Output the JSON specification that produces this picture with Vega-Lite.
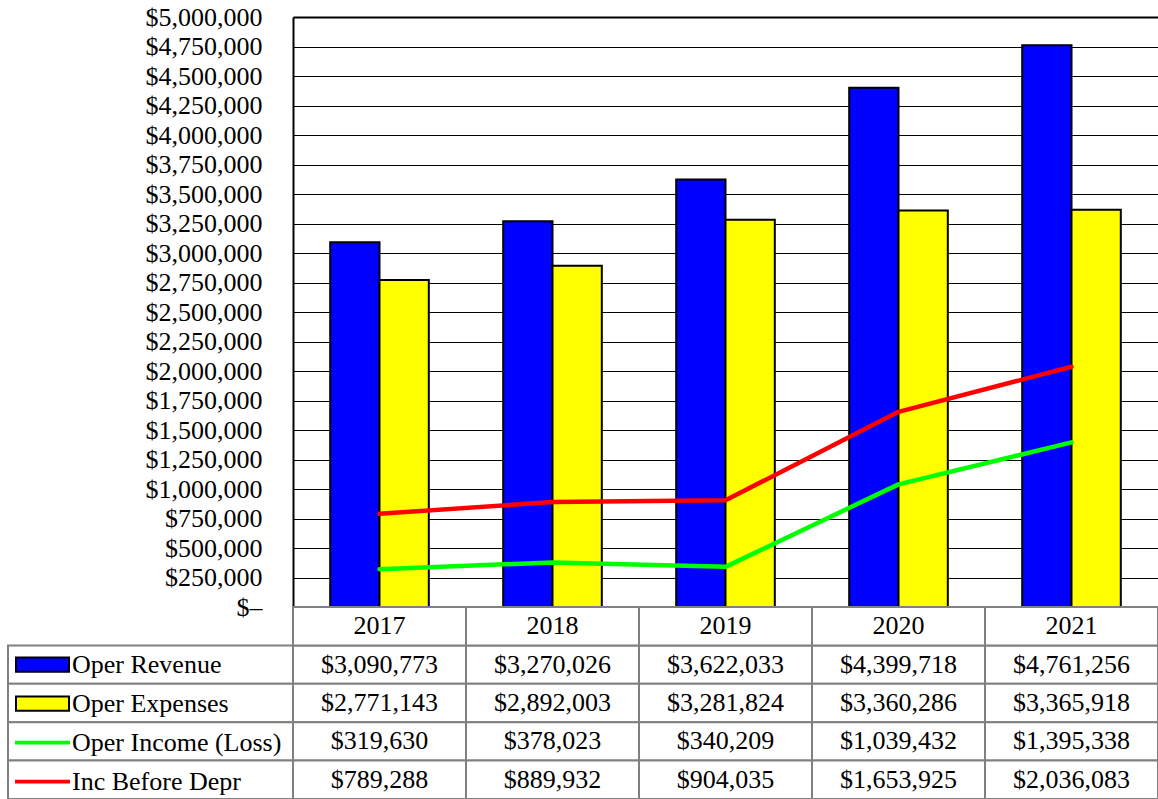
{
  "$schema": "https://vega.github.io/schema/vega-lite/v6.json",
  "background": "white",
  "padding": {"left": 7, "top": 4, "right": 0, "bottom": 0},
  "config": {
    "view": {"stroke": null},
    "font": "Liberation Serif",
    "concat": {"spacing": 0}
  },
  "datasets": {
    "fin": [
      {"year": "2017", "series": "Oper Revenue", "value": 3090773},
      {"year": "2018", "series": "Oper Revenue", "value": 3270026},
      {"year": "2019", "series": "Oper Revenue", "value": 3622033},
      {"year": "2020", "series": "Oper Revenue", "value": 4399718},
      {"year": "2021", "series": "Oper Revenue", "value": 4761256},
      {"year": "2017", "series": "Oper Expenses", "value": 2771143},
      {"year": "2018", "series": "Oper Expenses", "value": 2892003},
      {"year": "2019", "series": "Oper Expenses", "value": 3281824},
      {"year": "2020", "series": "Oper Expenses", "value": 3360286},
      {"year": "2021", "series": "Oper Expenses", "value": 3365918},
      {"year": "2017", "series": "Oper Income (Loss)", "value": 319630},
      {"year": "2018", "series": "Oper Income (Loss)", "value": 378023},
      {"year": "2019", "series": "Oper Income (Loss)", "value": 340209},
      {"year": "2020", "series": "Oper Income (Loss)", "value": 1039432},
      {"year": "2021", "series": "Oper Income (Loss)", "value": 1395338},
      {"year": "2017", "series": "Inc Before Depr", "value": 789288},
      {"year": "2018", "series": "Inc Before Depr", "value": 889932},
      {"year": "2019", "series": "Inc Before Depr", "value": 904035},
      {"year": "2020", "series": "Inc Before Depr", "value": 1653925},
      {"year": "2021", "series": "Inc Before Depr", "value": 2036083}
    ]
  },
  "columns": 2,
  "bounds": "flush",
  "spacing": 0,
  "resolve": {"scale": {"color": "independent"}},
  "concat": [
    {
      "width": 285,
      "height": 590,
      "data": {"values": []},
      "mark": {"type": "point", "opacity": 0}
    },
    {
      "width": 865,
      "height": 590,
      "data": {"name": "fin"},
      "encoding": {
        "x": {"field": "year", "type": "ordinal", "axis": null,
              "scale": {"paddingInner": 0.43, "paddingOuter": 0.215}},
        "y": {"field": "value", "type": "quantitative",
              "scale": {"domain": [0, 5000000], "nice": false},
              "axis": {
                "title": null,
                "values": [0, 250000, 500000, 750000, 1000000, 1250000, 1500000, 1750000, 2000000, 2250000, 2500000, 2750000, 3000000, 3250000, 3500000, 3750000, 4000000, 4250000, 4500000, 4750000, 5000000],
                "labelExpr": "datum.value == 0 ? '$–' : '$' + format(datum.value, ',')",
                "labelFont": "Liberation Serif",
                "labelFontSize": 26,
                "labelColor": "black",
                "labelPadding": 31,
                "labelFlush": false,
                "labelOverlap": false,
                "ticks": false,
                "tickSize": 0,
                "domain": true,
                "domainColor": "black",
                "domainWidth": 2,
                "grid": true,
                "gridColor": "black",
                "gridOpacity": 1,
                "gridWidth": {"condition": {"test": "datum.value == 5000000", "value": 2}, "value": 1}
              }}
      },
      "layer": [
        {
          "transform": [{"filter": "datum.series == 'Oper Revenue' || datum.series == 'Oper Expenses'"}],
          "mark": {"type": "bar", "stroke": "black", "strokeWidth": 2},
          "encoding": {
            "xOffset": {"field": "series", "type": "nominal",
                        "scale": {"domain": ["Oper Revenue", "Oper Expenses"], "paddingInner": 0, "paddingOuter": 0}},
            "color": {"field": "series", "type": "nominal", "legend": null,
                      "scale": {"domain": ["Oper Revenue", "Oper Expenses", "Oper Income (Loss)", "Inc Before Depr"],
                                "range": ["#0000ff", "#ffff00", "#00ff00", "#ff0000"]}}
          }
        },
        {
          "transform": [{"filter": "datum.series == 'Oper Income (Loss)' || datum.series == 'Inc Before Depr'"}],
          "mark": {"type": "line", "strokeWidth": 4.5, "strokeCap": "round", "strokeJoin": "round"},
          "encoding": {
            "color": {"field": "series", "type": "nominal", "legend": null,
                      "scale": {"domain": ["Oper Revenue", "Oper Expenses", "Oper Income (Loss)", "Inc Before Depr"],
                                "range": ["#0000ff", "#ffff00", "#00ff00", "#ff0000"]}}
          }
        }
      ]
    },
    {
      "width": 285,
      "height": 192,
      "data": {"name": "fin"},
      "transform": [{"aggregate": [{"op": "count", "as": "n"}], "groupby": ["series"]}],
      "encoding": {
        "y": {"field": "series", "type": "nominal", "axis": null,
              "scale": {"domain": ["header", "Oper Revenue", "Oper Expenses", "Oper Income (Loss)", "Inc Before Depr"], "paddingInner": 0, "paddingOuter": 0}}
      },
      "layer": [
        {"mark": {"type": "rect", "fill": "white", "stroke": "#808080", "strokeWidth": 2}},
        {
          "mark": {"type": "text"},
          "encoding": {
            "text": {"value": ""},
            "color": {"field": "series", "type": "nominal",
                      "scale": {"domain": ["Oper Revenue", "Oper Expenses", "Oper Income (Loss)", "Inc Before Depr"],
                                "range": ["#0000ff", "#ffff00", "#00ff00", "#ff0000"]},
                      "legend": {
                        "orient": "none",
                        "legendX": 7,
                        "legendY": 38.4,
                        "title": null,
                        "padding": 0,
                        "rowPadding": 0,
                        "clipHeight": 38.4,
                        "direction": "vertical",
                        "symbolSize": 2809,
                        "symbolStrokeWidth": 2,
                        "symbolOpacity": 1,
                        "symbolType": {"expr": "(datum.value == 'Oper Revenue' || datum.value == 'Oper Expenses') ? 'M-1,-0.27H1V0.27H-1Z' : 'M-1,-0.03H1V0.03H-1Z'"},
                        "symbolStrokeColor": {"expr": "datum.value == 'Oper Income (Loss)' ? '#00ff00' : datum.value == 'Inc Before Depr' ? '#ff0000' : '#000000'"},
                        "labelFont": "Liberation Serif",
                        "labelFontSize": 26,
                        "labelColor": "black",
                        "labelOffset": 2,
                        "labelLimit": 400
                      }}
          }
        }
      ]
    },
    {
      "width": 865,
      "height": 192,
      "data": {"name": "fin"},
      "encoding": {
        "x": {"field": "year", "type": "ordinal", "axis": null,
              "scale": {"paddingInner": 0, "paddingOuter": 0}},
        "y": {"field": "series", "type": "nominal", "axis": null,
              "scale": {"domain": ["header", "Oper Revenue", "Oper Expenses", "Oper Income (Loss)", "Inc Before Depr"], "paddingInner": 0, "paddingOuter": 0}}
      },
      "layer": [
        {"mark": {"type": "rect", "fill": "white", "stroke": "#808080", "strokeWidth": 2}},
        {
          "mark": {"type": "text", "font": "Liberation Serif", "fontSize": 26, "color": "black", "align": "center", "baseline": "middle"},
          "encoding": {"text": {"field": "value", "type": "quantitative", "format": "$,d"}}
        },
        {
          "transform": [{"aggregate": [{"op": "count", "as": "n"}], "groupby": ["year"]}],
          "mark": {"type": "rect", "fill": "white", "stroke": "#808080", "strokeWidth": 2},
          "encoding": {"y": {"datum": "header", "type": "nominal"}}
        },
        {
          "transform": [{"aggregate": [{"op": "count", "as": "n"}], "groupby": ["year"]}],
          "mark": {"type": "text", "font": "Liberation Serif", "fontSize": 26, "color": "black", "align": "center", "baseline": "middle"},
          "encoding": {"y": {"datum": "header", "type": "nominal"}, "text": {"field": "year", "type": "nominal"}}
        }
      ]
    }
  ]
}
